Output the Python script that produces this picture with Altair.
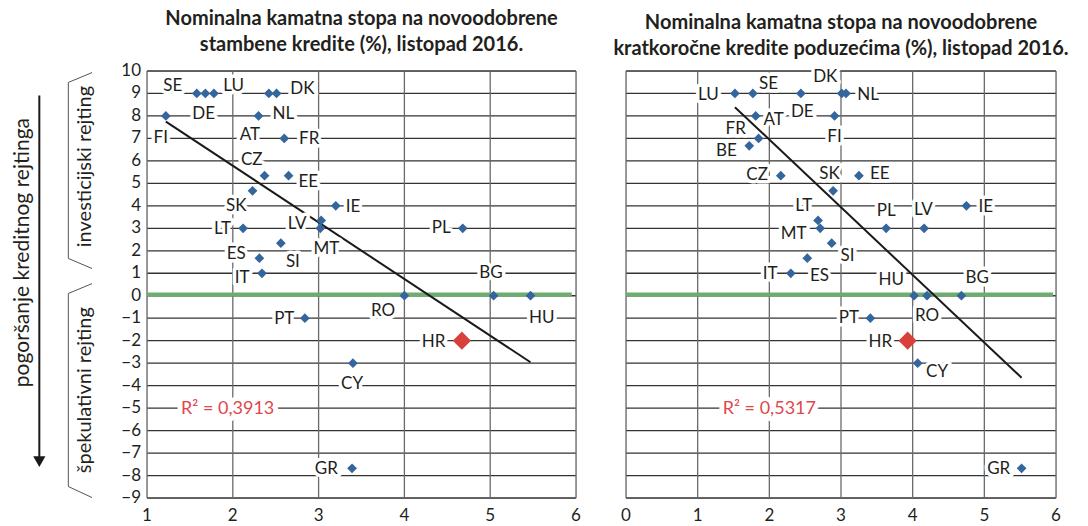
import altair as alt
import pandas as pd

# ---------------- data: left panel (housing loans) ----------------
l_country = ["SE", "DE", "LU", "NL", "DK", "FI", "AT", "FR", "CZ", "EE", "SK", "IE", "LV",
             "LT", "MT", "PL", "SI", "ES", "IT", "RO", "BG", "HU", "PT", "HR", "CY", "GR"]
l_rate = [1.58, 1.68, 1.78, 2.42, 2.51, 1.22, 2.30, 2.60, 2.37, 2.65, 2.23, 3.20, 3.03,
          2.12, 3.02, 4.68, 2.56, 2.31, 2.34, 4.00, 5.04, 5.47, 2.84, 4.67, 3.40, 3.39]
l_rating = [9, 9, 9, 9, 9, 8, 8, 7, 5.34, 5.34, 4.67, 4.0, 3.35,
            3, 3, 3, 2.34, 1.67, 1.0, 0, 0, 0, -1, -2, -3, -7.68]
l_lab_x = [1.30, 1.66, 2.01, 2.59, 2.81, 1.16, 2.20, 2.89, 2.22, 2.88, 2.04, 3.40, 2.75,
           1.88, 3.09, 4.43, 2.70, 2.04, 2.11, 3.75, 5.01, 5.60, 2.60, 4.34, 3.39, 3.09]
l_lab_y = [9.35, 8.1, 9.35, 8.1, 9.2, 7.0, 7.13, 6.98, 6.05, 5.05, 4.01, 3.97, 3.2,
           2.98, 2.09, 3.0, 1.49, 1.86, 0.78, -0.70, 1.0, -1.0, -1.03, -2.04, -3.92, -7.70]
l_trend_x = [1.22, 5.47]
l_trend_y = [7.75, -2.96]
l_r2 = "R\u00b2 = 0,3913"
l_r2_pos = (1.94, -5.03)

# ---------------- data: right panel (short-term corporate loans) ----------------
r_country = ["LU", "SE", "DE", "DK", "NL", "FI", "AT", "FR", "BE", "CZ", "EE", "SK", "IE",
             "LT", "MT", "PL", "LV", "SI", "ES", "IT", "HU", "RO", "BG", "PT", "HR", "CY", "GR"]
r_rate = [1.52, 1.77, 2.44, 3.01, 3.07, 2.91, 1.81, 1.85, 1.72, 2.16, 3.25, 2.89, 4.75,
          2.68, 2.71, 3.63, 4.16, 2.87, 2.53, 2.30, 4.02, 4.20, 4.68, 3.41, 3.93, 4.07, 5.52]
r_rating = [9, 9, 9, 9, 9, 8, 8, 7, 6.67, 5.34, 5.34, 4.67, 4.0,
            3.35, 3, 3, 3, 2.34, 1.67, 1.0, 0, 0, 0, -1, -2, -3, -7.68]
r_lab_x = [1.15, 1.99, 2.46, 2.78, 3.38, 2.91, 2.06, 1.53, 1.40, 1.83, 3.54, 2.84, 5.02,
           2.48, 2.34, 3.63, 4.15, 3.09, 2.70, 2.01, 3.70, 4.20, 4.90, 3.11, 3.55, 4.34, 5.20]
r_lab_y = [8.94, 9.43, 8.17, 9.72, 8.95, 7.05, 7.80, 7.43, 6.46, 5.38, 5.42, 5.42, 3.97,
           4.01, 2.75, 3.79, 3.82, 1.79, 0.87, 0.97, 0.68, -0.88, 0.80, -1.0, -2.04, -3.40, -7.70]
r_trend_x = [1.52, 5.52]
r_trend_y = [8.39, -3.65]
r_r2 = "R\u00b2 = 0,5317"
r_r2_pos = (2.00, -5.03)

y_ticks = list(range(-9, 11))
y_tick_labels = [str(v).replace("-", "\u2212") for v in y_ticks]
highlight = "HR"

FONT = "Lato"
BLUE = "#34659c"
RED = "#d8413b"
GREEN = "#6dae6f"
INK = "#231f20"
W_L, W_R, H = 429, 430, 427


def panel(countries, rates, ratings, lab_x, lab_y, tx, ty, r2, r2pos, xdom, green_span,
          title_lines, show_y, w, title_offset):
    pts = pd.DataFrame({"c": countries, "x": rates, "y": ratings})
    lbl = pd.DataFrame({"c": countries, "x": lab_x, "y": lab_y})
    trend = pd.DataFrame({"x": tx, "y": ty})
    green = pd.DataFrame({"x": [green_span[0]], "x2": [green_span[1]], "y": [0.05]})
    r2df = pd.DataFrame({"t": [r2], "x": [r2pos[0]], "y": [r2pos[1]]})
    x_ticks = list(range(xdom[0], xdom[1] + 1))
    xt = pd.DataFrame({"x": x_ticks, "t": [str(v) for v in x_ticks]})
    yt = pd.DataFrame({"y": y_ticks, "t": y_tick_labels})

    xs = alt.Scale(domain=list(xdom), nice=False, zero=False)
    ys = alt.Scale(domain=[-9, 10], nice=False, zero=False)
    X = lambda f: alt.X(f, scale=xs, axis=None)
    Y = lambda f: alt.Y(f, scale=ys, axis=None)

    hgrid = alt.Chart(yt).mark_rule(color="#333333", strokeWidth=1.3).encode(
        y=Y("y:Q"), x=alt.value(0), x2=alt.value(w))
    vgrid = alt.Chart(xt).mark_rule(color="#6a6a6a", strokeWidth=1.3).encode(
        x=X("x:Q"), y=alt.value(0), y2=alt.value(H))
    xlab = alt.Chart(xt).mark_text(font=FONT, fontSize=17, color=INK, baseline="top",
                                   dy=10).encode(x=X("x:Q"), y=alt.value(H), text="t:N")
    layers = [hgrid, vgrid, xlab]
    if show_y:
        ylab = alt.Chart(yt).mark_text(font=FONT, fontSize=17, color=INK, align="right",
                                       baseline="middle", dx=-6).encode(
            y=Y("y:Q"), x=alt.value(0), text="t:N")
        layers.append(ylab)

    g = alt.Chart(green).mark_rule(color=GREEN, strokeWidth=4).encode(
        x=X("x:Q"), x2="x2:Q", y=Y("y:Q"))
    tr = alt.Chart(trend).mark_line(color="#1a1a1a", strokeWidth=2).encode(
        x=X("x:Q"), y=Y("y:Q"))
    halo = alt.Chart(lbl).mark_text(font=FONT, fontSize=17, stroke="white", strokeWidth=7,
                                    strokeJoin="round", color="white").encode(
        x=X("x:Q"), y=Y("y:Q"), text="c:N")
    txt = alt.Chart(lbl).mark_text(font=FONT, fontSize=17, color=INK).encode(
        x=X("x:Q"), y=Y("y:Q"), text="c:N")
    r2h = alt.Chart(r2df).mark_text(font=FONT, fontSize=18, stroke="white", strokeWidth=10,
                                    strokeJoin="round", color="white").encode(
        x=X("x:Q"), y=Y("y:Q"), text="t:N")
    r2t = alt.Chart(r2df).mark_text(font=FONT, fontSize=18, color="#e0474c").encode(
        x=X("x:Q"), y=Y("y:Q"), text="t:N")
    dots = alt.Chart(pts).transform_filter(alt.datum.c != highlight).mark_point(
        shape="diamond", filled=True, size=95, color=BLUE, opacity=1).encode(
        x=X("x:Q"), y=Y("y:Q"))
    hr = alt.Chart(pts).transform_filter(alt.datum.c == highlight).mark_point(
        shape="diamond", filled=True, size=330, color=RED, opacity=1).encode(
        x=X("x:Q"), y=Y("y:Q"))
    layers += [g, tr, halo, txt, r2h, r2t, dots, hr]

    return alt.layer(*layers).properties(
        width=w, height=H,
        title=alt.TitleParams(title_lines, font=FONT, fontSize=20, fontWeight="bold",
                              color=INK, anchor="middle", frame="group", lineHeight=26,
                              offset=title_offset))


left = panel(l_country, l_rate, l_rating, l_lab_x, l_lab_y, l_trend_x, l_trend_y, l_r2,
             l_r2_pos, (1, 6), (1.0, 5.95),
             ["Nominalna kamatna stopa na novoodobrene", "stambene kredite (%), listopad 2016."],
             True, W_L, 7)
right = panel(r_country, r_rate, r_rating, r_lab_x, r_lab_y, r_trend_x, r_trend_y, r_r2,
              r_r2_pos, (0, 6), (0.0, 5.96),
              ["Nominalna kamatna stopa na novoodobrene",
               "kratkoročne kredite poduzećima (%), listopad 2016."],
              False, W_R, 9)

# ---------------- side annotation (rating direction) ----------------
ann_text = ["pogoršanje kreditnog rejtinga", "investicijski rejting", "špekulativni rejting"]
ann_size = [21, 20, 20]
ann_tx = [0.169, 0.865, 0.865]
ann_ty = [1.92, 5.75, -4.2]
seg_x = [0.944, 0.678, 0.678, 0.944, 0.678, 0.678, 0.352]
seg_y = [9.93, 9.49, 1.66, 0.54, 0.10, -8.49, 8.91]
seg_x2 = [0.678, 0.678, 0.944, 0.678, 0.678, 0.944, 0.352]
seg_y2 = [9.49, 1.66, 1.21, 0.10, -8.49, -8.98, -7.2]
arrow_tip = (0.352, -7.38)

axs = alt.Scale(domain=[0, 1], nice=False, zero=False)
ays = alt.Scale(domain=[-9, 10], nice=False, zero=False)
segs = pd.DataFrame({"x": seg_x, "y": seg_y, "x2": seg_x2, "y2": seg_y2,
                     "k": ["b", "b", "b", "b", "b", "b", "a"]})
a_lines = alt.Chart(segs).mark_rule().encode(
    x=alt.X("x:Q", scale=axs, axis=None), y=alt.Y("y:Q", scale=ays, axis=None),
    x2="x2:Q", y2="y2:Q",
    color=alt.Color("k:N", scale=alt.Scale(domain=["a", "b"], range=["#1a1a1a", "#555555"]),
                    legend=None),
    strokeWidth=alt.StrokeWidth("k:N", scale=alt.Scale(domain=["a", "b"], range=[2, 1]),
                                legend=None))
a_head = alt.Chart(pd.DataFrame({"x": [arrow_tip[0]], "y": [arrow_tip[1]]})).mark_point(
    shape="triangle-down", filled=True, size=150, color="#1a1a1a", opacity=1).encode(
    x=alt.X("x:Q", scale=axs, axis=None), y=alt.Y("y:Q", scale=ays, axis=None))
a_txt = alt.Chart(pd.DataFrame({"t": ann_text, "x": ann_tx, "y": ann_ty, "s": ann_size})).mark_text(
    font=FONT, angle=270, color=INK, align="center", baseline="middle").encode(
    x=alt.X("x:Q", scale=axs, axis=None), y=alt.Y("y:Q", scale=ays, axis=None), text="t:N",
    size=alt.Size("s:Q", scale=None, legend=None))
annot = alt.layer(a_lines, a_head, a_txt).properties(width=89, height=H, view=alt.ViewConfig(stroke=None))

chart = alt.hconcat(annot, left, right, spacing=50, bounds="flush").properties(
    padding={"left": 0, "top": 0, "right": 0, "bottom": 0}
).configure_view(stroke="#333333", strokeWidth=1.5).configure(background="white")

chart.save("out.html", embed_options={"renderer": "svg", "actions": False})
